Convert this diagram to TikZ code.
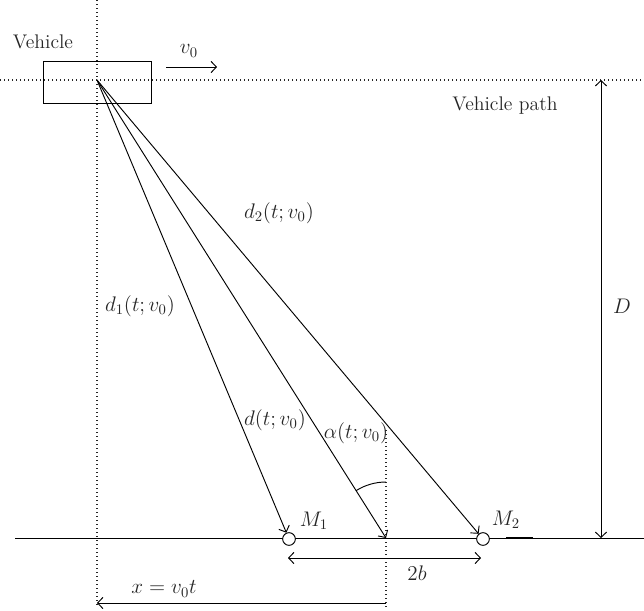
\documentclass[tikz,border=0pt]{standalone}
\usepackage{amsmath}
\usetikzlibrary{arrows.meta}
\begin{document}
\begin{tikzpicture}[x=0.75pt,y=-0.75pt,
  >={Straight Barb[length=4pt,width=8.5pt]},
  ln/.style={line width=0.7pt,black},
  dots/.style={line width=0.8pt,dash pattern=on 0.7pt off 2.3pt,black!85},
  lbl/.style={font=\fontsize{14.8}{17}\selectfont,text=black!85,inner sep=1pt},
  mlbl/.style={font=\fontsize{14.4}{17}\selectfont,text=black!85,inner sep=1pt,scale=1.1},
  meas/.style={circle,draw,line width=0.7pt,fill=white,minimum size=9.5pt,inner sep=0pt}]
\useasboundingbox (0,0) rectangle (644,611);
% reference lines
\coordinate (VT) at (97,0);
\coordinate (VB) at (97,607);
\coordinate (HL) at (0,80);
\coordinate (HR) at (644,80);
\coordinate (PT) at (386,430);
\coordinate (PB) at (386,607);
\draw[dots] (VT) -- (VB);
\draw[dots] (HL) -- (HR);
\draw[dots] (PT) -- (PB);
% vehicle
\node[draw,line width=0.7pt,minimum width=81pt,minimum height=31.5pt,inner sep=0pt] (car) at (97,82) {};
\node[lbl] (vlab) at (43,42) {Vehicle};
\coordinate (A) at (97,80);
\coordinate (v0s) at (166,67);
\coordinate (v0e) at (217,67);
\draw[ln,->] (v0s) -- (v0e);
\node[mlbl] (v0lab) at (189,51) {$v_0$};
\node[lbl] (pathlab) at (505,106) {Vehicle path};
% ground
\coordinate (GL) at (15,538);
\coordinate (GR) at (644,538);
\draw[ln] (GL) -- (GR);
\coordinate (gs1) at (506,538);
\coordinate (gs2) at (533,538);
\draw[line width=1.6pt,black] (gs1) -- (gs2);
\coordinate (P) at (386,538);
\node[meas] (M1) at (289,539) {};
\node[meas] (M2) at (483,539) {};
\node[mlbl] (M1lab) at (314,521) {$M_1$};
\node[mlbl] (M2lab) at (506,520) {$M_2$};
% rays
\draw[ln,->] (A) -- (M1);
\draw[ln,->] (A) -- (P);
\draw[ln,->] (A) -- (M2);
\draw[ln] ([yshift=42pt]P) arc[start angle=90,end angle=122.25,radius=42pt];
\node[mlbl] (d2lab) at (279,213) {$d_2(t;v_0)$};
\node[mlbl] (d1lab) at (140,306) {$d_1(t;v_0)$};
\node[mlbl] (dlab) at (275,420) {$d(t;v_0)$};
\node[mlbl] (alab) at (356,433) {$\alpha(t;v_0)$};
% D
\coordinate (Dt) at (601,80);
\coordinate (Db) at (601,538);
\draw[ln,<->] (Dt) -- (Db);
\node[mlbl] (Dlab) at (622,306) {$D$};
% 2b
\coordinate (bL) at (288,558);
\coordinate (bR) at (481,558);
\draw[ln,<->] (bL) -- (bR);
\node[mlbl] (blab) at (417,573) {$2b$};
% x = v0 t
\coordinate (xR) at (386,603);
\coordinate (xL) at (97,603);
\draw[ln,->] (xR) -- (xL);
\node[mlbl] (xlab) at (164,589) {$x = v_0t$};
\end{tikzpicture}
\end{document}
